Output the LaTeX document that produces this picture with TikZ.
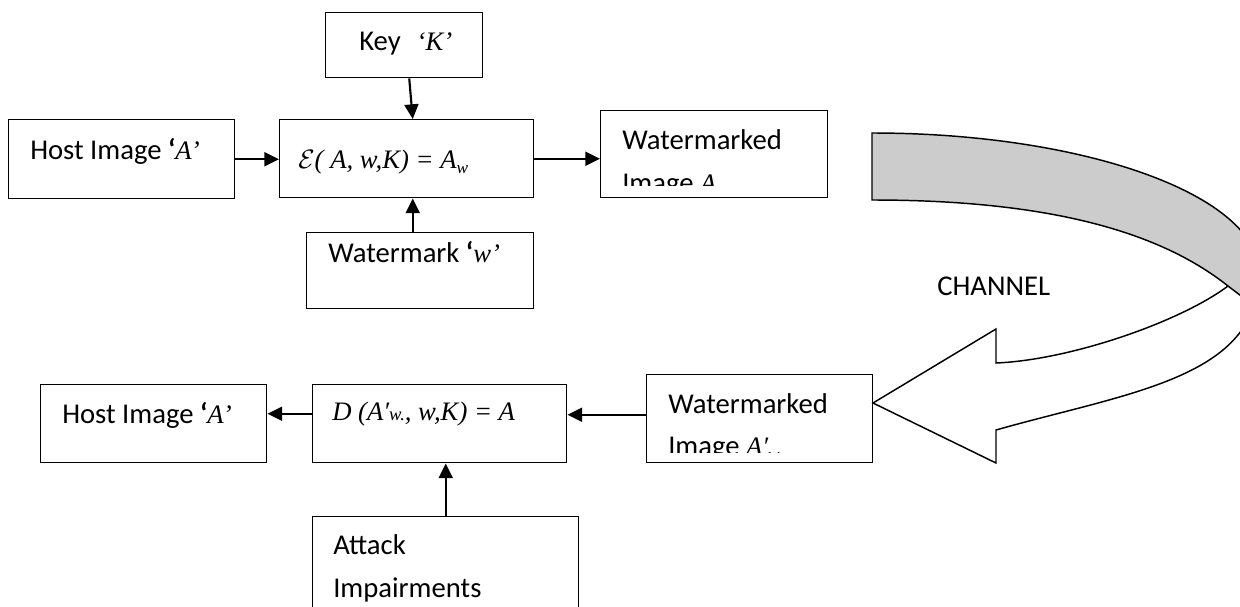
\RequirePackage{fix-cm}
\documentclass[tikz,border=0pt]{standalone}
\usepackage{fontspec}
\setmainfont{Carlito}
\newfontfamily\tms{Liberation Serif}
\usetikzlibrary{arrows.meta,calc}
\definecolor{bandgray}{RGB}{204,204,204}
\newcommand\tmi{\tms\itshape\fontsize{20}{24}\selectfont}
\newcommand\sbw{\raisebox{-0.2em}{\fontsize{13}{13}\selectfont w}}
\begin{document}
\begin{tikzpicture}[x=0.75pt,y=-0.75pt,
  box/.style={draw,line width=1.1pt,inner sep=0pt,anchor=north west,rectangle},
  txt/.style={anchor=base west,inner sep=0pt,font=\fontsize{21.5}{26}\selectfont},
  arr/.style={line width=1.6pt,-{Triangle[length=11pt,width=10.5pt]}},
  band/.style={line width=1.1pt,line join=miter}]
\useasboundingbox (0,0) rectangle (1240,607);
\clip (0,0) rectangle (1240,607);

% boxes
\node[box,minimum width=226*0.75pt,minimum height=79*0.75pt] (hostA) at (8,119) {};
\node[box,minimum width=157*0.75pt,minimum height=65*0.75pt] (key) at (325,12) {};
\node[box,minimum width=254*0.75pt,minimum height=78*0.75pt] (enc) at (279,119) {};
\node[box,minimum width=227*0.75pt,minimum height=76*0.75pt] (wm) at (306,232) {};
\node[box,minimum width=227*0.75pt,minimum height=87*0.75pt] (wmi) at (600,110) {};
\node[box,minimum width=226*0.75pt,minimum height=78*0.75pt] (hostB) at (40,384) {};
\node[box,minimum width=254*0.75pt,minimum height=78*0.75pt] (dec) at (312,384) {};
\node[box,minimum width=226*0.75pt,minimum height=88*0.75pt] (wmo) at (646,374) {};
\node[box,minimum width=266*0.75pt,minimum height=110*0.75pt] (att) at (312,516) {};

% texts
\node[txt] (t1) at (30,159) {Host Image {\bfseries ‘}{\tmi A’}};
\node[txt] (t2) at (359,50) {Key\hspace{12pt}{\tmi ‘K’}};
\node[txt] (t3) at (298,168) {\tmi $\mathcal{E}$( A, w,K) = A\sbw};
\node[txt] (t4) at (328,262) {Watermark {\bfseries ‘}{\tmi w’}};
\begin{scope}
  \clip (600,110) rectangle (827,185);
  \node[txt] (t5) at (622,149) {Watermarked};
  \node[txt] (t6) at (622,192) {Image {\tmi A\sbw}};
\end{scope}
\node[txt] (t7) at (937,295) {CHANNEL};
\node[txt] (t8) at (62,423) {Host Image {\bfseries ‘}{\tmi A’}};
\node[txt] (t9) at (332,420) {\tmi D (A′{\fontsize{14}{14}\selectfont w.}, w,K) = A};
\begin{scope}
  \clip (646,374) rectangle (872,452);
  \node[txt] (t10) at (668,413) {Watermarked};
  \node[txt] (t11) at (668,455) {Image {\tmi A′\sbw}};
\end{scope}
\node[txt] (t12) at (333,554) {Attack};
\node[txt] (t13) at (333,597) {Impairments};

% connectors
\draw[arr] (hostA.east) -- (hostA.east -| enc.west);
\draw[arr] ($(key.south)+(5,0)$) -- ($(enc.north)+(6,0)$);
\draw[arr] ($(wm.north)+(-7.5,0)$) -- ($(enc.south)+(6,0)$);
\draw[arr] (enc.east) -- (enc.east -| wmi.west);
\draw[arr] ($(dec.west)+(0,-10)$) -- ($(hostB.east)+(0,-10)$);
\draw[arr] ($(wmo.west)+(0,-4)$) coordinate (p) -- (p -| dec.east);
\draw[arr] (att.north) -- (att.north |- dec.south);

% curved channel arrow
\filldraw[band,fill=bandgray] (872,133) .. controls (1085.6,133) and (1259,195.7) .. (1259,273)
  -- (1258.5,312) .. controls (1250,302) and (1241,296) .. (1228,286)
  .. controls (1170,240) and (1070,200) .. (872,200) -- cycle;
\draw[band] (1228,286) .. controls (1180,322) and (1070,360) .. (996,363)
  -- (996,329) -- (873,403) -- (996,463) -- (996,430)
  .. controls (1130,392) and (1259,378) .. (1259,273);
\end{tikzpicture}
\end{document}
